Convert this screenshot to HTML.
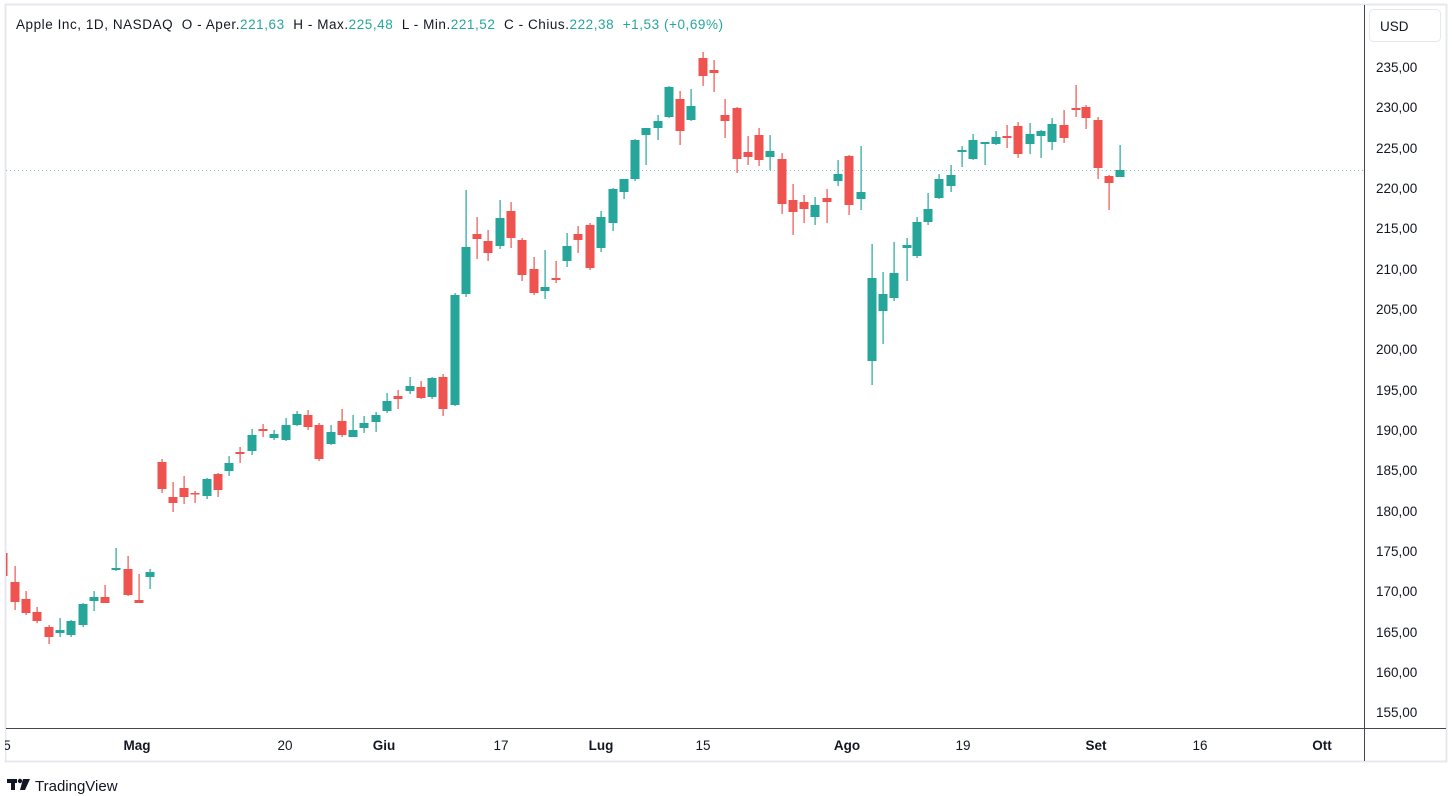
<!DOCTYPE html>
<html><head><meta charset="utf-8"><style>
body{margin:0;background:#fff;width:1452px;height:796px;overflow:hidden;font-family:"Liberation Sans",sans-serif}
svg{position:absolute;left:0;top:0}
</style></head><body>
<svg width="1452" height="796" xmlns="http://www.w3.org/2000/svg" font-family="Liberation Sans, sans-serif">
<defs><clipPath id="cp"><rect x="6" y="5" width="1358" height="723"/></clipPath></defs>
<rect x="5.5" y="4.5" width="1441" height="757" fill="none" stroke="#e6e8ee" stroke-width="2"/>
<line x1="6" y1="728.5" x2="1446" y2="728.5" stroke="#434651" stroke-width="1"/>
<line x1="1364.5" y1="5" x2="1364.5" y2="761" stroke="#434651" stroke-width="1"/>
<line x1="6" y1="170.5" x2="1364" y2="170.5" stroke="#26a69a" stroke-width="1" stroke-dasharray="1,3" opacity="0.6"/>
<rect x="1369.5" y="9.5" width="71" height="32" rx="4" fill="#fff" stroke="#e6e8ee"/>
<text x="1380" y="31" font-size="13.5" fill="#131722">USD</text>
<g font-size="13.5" fill="#131722">
<text x="1376" y="72">235,00</text><text x="1376" y="112">230,00</text><text x="1376" y="153">225,00</text><text x="1376" y="193">220,00</text><text x="1376" y="233">215,00</text><text x="1376" y="274">210,00</text><text x="1376" y="314">205,00</text><text x="1376" y="354">200,00</text><text x="1376" y="395">195,00</text><text x="1376" y="435">190,00</text><text x="1376" y="475">185,00</text><text x="1376" y="516">180,00</text><text x="1376" y="556">175,00</text><text x="1376" y="596">170,00</text><text x="1376" y="637">165,00</text><text x="1376" y="677">160,00</text><text x="1376" y="717">155,00</text>
</g>
<g font-size="13.5" fill="#131722" text-anchor="middle">
<text x="7" y="750">5</text><text x="137" y="750" font-weight="bold">Mag</text><text x="285" y="750">20</text><text x="384" y="750" font-weight="bold">Giu</text><text x="501" y="750">17</text><text x="601" y="750" font-weight="bold">Lug</text><text x="703" y="750">15</text><text x="847" y="750" font-weight="bold">Ago</text><text x="963" y="750">19</text><text x="1096" y="750" font-weight="bold">Set</text><text x="1200" y="750">16</text><text x="1322" y="750" font-weight="bold">Ott</text>
</g>
<rect x="0" y="729" width="5" height="30" fill="#fff"/>
<text x="16" y="29" font-size="13.5" fill="#131722" xml:space="preserve" textLength="707" lengthAdjust="spacing">Apple Inc, 1D, NASDAQ  O - Aper.<tspan fill="#26a69a">221,63</tspan>  H - Max.<tspan fill="#26a69a">225,48</tspan>  L - Min.<tspan fill="#26a69a">221,52</tspan>  C - Chius.<tspan fill="#26a69a">222,38</tspan>  <tspan fill="#26a69a">+1,53 (+0,69%)</tspan></text>
<g fill="#131722"><rect x="7" y="779" width="10" height="4"/><rect x="11" y="779" width="4" height="11"/><circle cx="20" cy="781" r="2.2"/><path d="M23 779 L30 779 L25 790 L20 790 Z"/></g>
<text x="35" y="791" font-size="15" fill="#131722">TradingView</text>
<g id="c" clip-path="url(#cp)"></g>
</svg>
<script>
var R=[[7,548,578,553,576],[15,566,610,582,602],[26,591,615,599,613],[37,607,623,612,621],[49,625,644,627,637],[105,585,603,597,603],[128,556,596,569,595],[139,574,603,600,603],[162,459,493,462,489],[173,482,512,497,503],[184,476,504,488,497],[195,491,503,493,494],[218,473,497,474,490],[240,447,463,452,454],[263,424,437,429,431],[308,410,430,415,427],[319,423,461,425,459],[342,409,437,421,435],[398,390,409,396,399],[421,381,399,387,398],[443,374,416,377,409],[477,217,259,234,239],[488,230,261,241,253],[511,202,248,211,238],[522,238,281,240,275],[534,257,295,269,293],[556,261,283,278,280],[578,226,253,234,240],[590,223,270,225,268],[680,91,145,99,131],[703,52,86,58,76],[714,60,92,70,73],[725,99,138,115,121],[737,107,173,108,159],[748,136,165,152,157],[759,128,166,135,160],[782,153,214,159,204],[793,184,235,200,212],[804,195,223,202,209],[827,189,223,198,202],[849,155,215,156,205],[1007,125,148,136,138],[1018,122,158,126,154],[1064,110,143,125,138],[1076,85,117,108,110],[1086,105,129,107,118],[1098,117,179,120,168],[1109,175,210,176,183]];
var G=[[60,618,637,630,633],[71,620,637,621,635],[83,603,627,604,625],[94,591,611,597,601],[116,548,571,568,570],[150,569,589,572,577],[207,478,499,479,496],[229,456,476,463,471],[252,429,455,435,451],[274,430,440,434,438],[286,418,441,425,440],[297,411,426,414,425],[331,425,445,432,444],[353,415,437,430,437],[364,416,433,423,428],[376,412,432,415,422],[387,393,413,401,411],[410,377,394,386,391],[432,377,399,378,397],[455,293,406,295,405],[466,190,297,247,294],[500,200,249,218,246],[545,250,299,287,291],[567,233,267,246,261],[601,211,252,217,248],[613,188,231,189,223],[624,179,199,179,192],[635,139,181,140,179],[646,128,165,128,135],[658,115,140,121,128],[669,86,118,87,117],[691,89,121,106,120],[770,135,170,151,157],[815,197,225,205,217],[838,160,186,174,181],[861,146,210,192,199],[872,244,385,278,361],[883,272,344,294,311],[894,242,301,273,298],[907,238,281,245,248],[917,217,258,222,256],[928,193,225,209,222],[939,174,199,179,198],[951,165,192,175,186],[962,146,167,150,152],[973,134,160,140,159],[985,142,165,142,144],[996,131,145,137,144],[1030,123,154,134,144],[1041,130,158,131,136],[1052,118,150,124,142],[1120,145,177,170,177]];
var s='';
function d(a,c){a.forEach(function(k){var x=k[0],h=k[1],l=k[2],t=k[3],b=k[4];if(k[0]==7)x=3;if(b-t<1.5)b=t+1.5;
s+='<rect x="'+(x-0.5)+'" y="'+h+'" width="1.2" height="'+(l-h)+'" fill="'+c+'"/>';
s+='<rect x="'+(x-4.5)+'" y="'+t+'" width="9" height="'+(b-t)+'" fill="'+c+'"/>';});}
d(R,'#ef5350');d(G,'#26a69a');
document.getElementById('c').innerHTML=s;
</script>
</body></html>
